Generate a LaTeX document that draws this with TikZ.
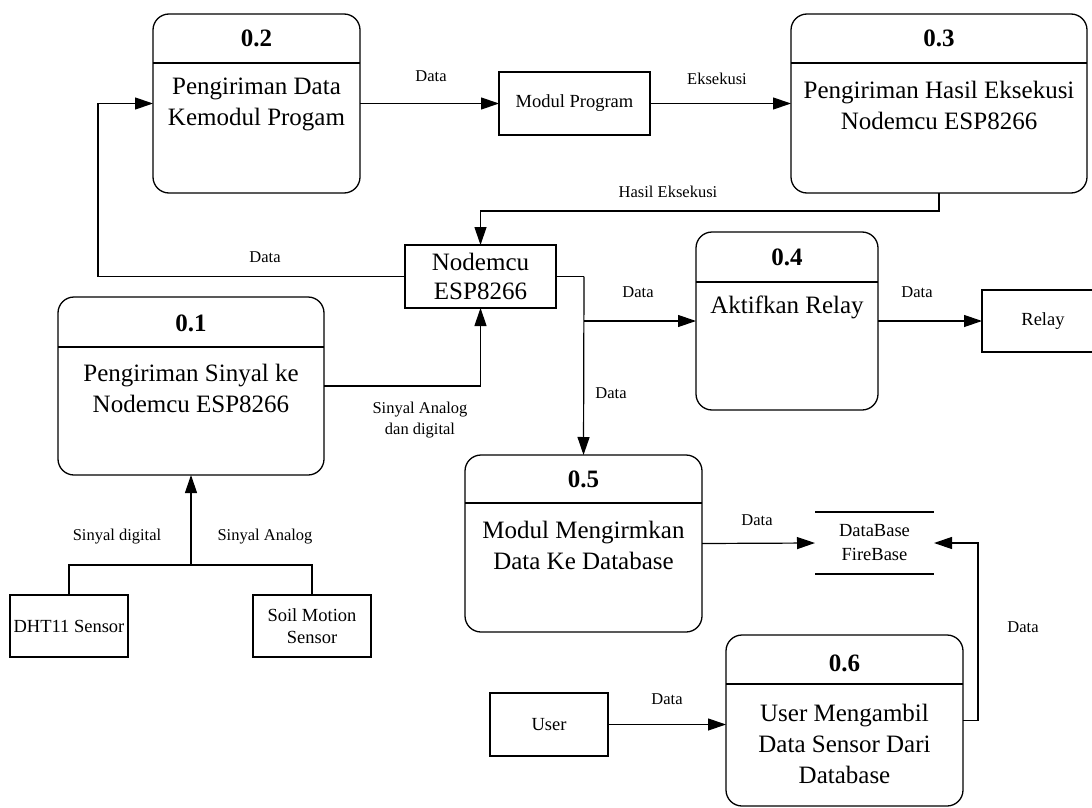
\documentclass[tikz,border=0pt]{standalone}
\usepackage{fontspec}
\setmainfont{Liberation Serif}
\usetikzlibrary{arrows.meta,calc}
\begin{document}
\begin{tikzpicture}[x=1pt,y=-1pt,
  proc/.style={draw,line width=1.3pt,rounded corners=16pt,inner sep=0pt,outer sep=0pt,anchor=north west},
  ent/.style={draw,line width=1.2pt,inner sep=0pt,outer sep=0pt,anchor=north west,align=center,font=\fontsize{18.5}{22}\selectfont},
  ptitle/.style={font=\fontsize{25}{30}\bfseries\selectfont,inner sep=0pt},
  ptext/.style={font=\fontsize{25}{31}\selectfont,align=center,inner sep=0pt},
  lbl/.style={font=\fontsize{16.5}{21}\selectfont,align=center,inner sep=0pt},
  con/.style={line width=1.2pt},
  arr/.style={line width=1.2pt,-{Triangle[length=18pt,width=12pt]}}]
\clip (0,0) rectangle (1092,808);
\useasboundingbox (0,0) rectangle (1092,808);
\fill[white] (0,0) rectangle (1092,808);

% processes
\node[proc,minimum width=207pt,minimum height=179pt] (p2) at (153,14) {};
\draw[line width=1.3pt] (153,63) -- (360,63);
\node[ptitle] (t2) at (256.5,38) {0.2};
\node[ptext] (x2) at (256.5,104.5) {Pengiriman Data\\Kemodul Progam};

\node[proc,minimum width=296pt,minimum height=179pt] (p3) at (791,14) {};
\draw[line width=1.3pt] (791,63) -- (1087,63);
\node[ptitle] (t3) at (939,38) {0.3};
\node[ptext] (x3) at (939,105) {Pengiriman Hasil Eksekusi\\Nodemcu ESP8266};

\node[proc,minimum width=266pt,minimum height=178pt] (p1) at (58,297) {};
\draw[line width=1.3pt] (58,347) -- (324,347);
\node[ptitle] (t1) at (191,323) {0.1};
\node[ptext] (x1) at (191,388.5) {Pengiriman Sinyal ke\\Nodemcu ESP8266};

\node[proc,minimum width=182pt,minimum height=178pt] (p4) at (696,232) {};
\draw[line width=1.3pt] (696,282) -- (878,282);
\node[ptitle] (t4) at (787,257) {0.4};
\node[ptext] (x4) at (787,307) {Aktifkan Relay};

\node[proc,minimum width=237pt,minimum height=177pt] (p5) at (465,455) {};
\draw[line width=1.3pt] (465,503) -- (702,503);
\node[ptitle] (t5) at (583.5,479) {0.5};
\node[ptext] (x5) at (583.5,545) {Modul Mengirmkan\\Data Ke Database};

\node[proc,minimum width=237pt,minimum height=171pt] (p6) at (726,635) {};
\draw[line width=1.3pt] (726,684) -- (963,684);
\node[ptitle] (t6) at (844.5,663) {0.6};
\node[ptext] (x6) at (844.5,744) {User Mengambil\\Data Sensor Dari\\Database};

% entities
\node[ent,minimum width=151pt,minimum height=63pt] (mp) at (499,72) {Modul Program};
\node[ent,minimum width=151pt,minimum height=63pt,font=\fontsize{25}{29}\selectfont] (nm) at (405,245) {Nodemcu\\ESP8266};
\node[ent,minimum width=122pt,minimum height=62pt] (relay) at (982,290) {Relay};
\node[ent,minimum width=118pt,minimum height=62pt] (dht) at (10,595) {DHT11 Sensor};
\node[ent,minimum width=118pt,minimum height=62pt] (soil) at (253,595) {Soil Motion\\Sensor};
\node[ent,minimum width=118pt,minimum height=63pt] (user) at (490,693) {User};

% data store
\node[ent,draw=none,minimum width=119pt,minimum height=62pt,font=\fontsize{18.5}{24}\selectfont] (db) at (815,512) {DataBase\\FireBase};
\draw[line width=1.2pt] (db.north west) -- (db.north east);
\draw[line width=1.2pt] (db.south west) -- (db.south east);

% connectors
\draw[arr] (p2.east) -- (mp.west);
\node[lbl] (l1) at (431,76) {Data};
\draw[arr] (mp.east) -- (p3.west);
\node[lbl] (l2) at (717,79) {Eksekusi};

\coordinate (h1) at (939,211);
\draw[arr] (p3.south) -- (h1) -| (nm.north);
\node[lbl] (l3) at (668,192) {Hasil Eksekusi};

\coordinate (d1) at (98,276.5);
\draw[arr] (nm.west) -- (d1) |- (p2.west);
\node[lbl] (l4) at (265,257) {Data};

\draw[arr] (p1.east) -| (nm.south);
\node[lbl] (l5) at (420,420) {Sinyal Analog\\dan digital};

\coordinate (n1) at (584,276.5);
\coordinate (n2) at (584,321);
\draw[con] (nm.east) -- (n1);
\draw[arr] (n1) -- (p5.north);
\draw[arr] (n2) -- (p4.west);
\node[lbl] (l6) at (638,292) {Data};
\node[lbl] (l7) at (611,393) {Data};

\draw[arr] (p4.east) -- (relay.west);
\node[lbl] (l8) at (917,292) {Data};

\coordinate (j) at (191,565);
\draw[con] (dht.north) |- (j) -| (soil.north);
\draw[arr] (j) -- (p1.south);
\node[lbl] (l9) at (117,537) {Sinyal digital};
\node[lbl] (l10) at (265,537) {Sinyal Analog};

\draw[arr] (p5.east) -- (db.west);
\node[lbl] (l11) at (757,520) {Data};

\coordinate (r1) at (978,720.5);
\draw[arr] (p6.east) -- (r1) |- (db.east);
\node[lbl] (l12) at (1023,627) {Data};

\draw[arr] (user.east) -- (user.east -| p6.west);
\node[lbl] (l13) at (667,699) {Data};
\end{tikzpicture}
\end{document}
